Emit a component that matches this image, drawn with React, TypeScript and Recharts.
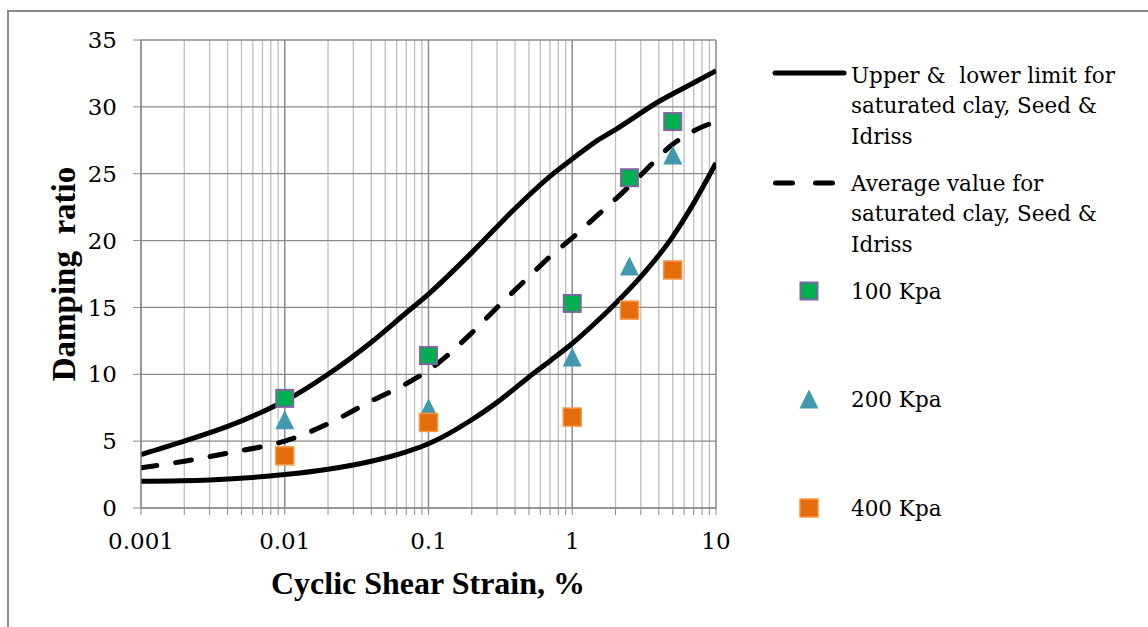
import {
  ComposedChart,
  Line,
  Scatter,
  XAxis,
  YAxis,
  CartesianGrid,
  ReferenceLine,
} from "recharts";

const GRID_MINOR = "#bdbdbd";
const GRID_MAJOR = "#8a8a8a";
const GREEN = "#00b050";
const PURPLE = "#8064a2";
const TEAL = "#4198af";
const ORANGE = "#e46c0a";
const ORANGE_EDGE = "#f79646";
const SERIF = "'DejaVu Serif', serif";
const TITLE_FONT = "'Liberation Serif', serif";

// axis ticks
const DECADES = [0.001, 0.01, 0.1, 1, 10];
const MINOR_STEPS = [2, 3, 4, 5, 6, 7, 8, 9];
const Y_TICKS = [0, 5, 10, 15, 20, 25, 30, 35];

// test results
const STRAIN = [0.01, 0.1, 1, 2.5, 5];
const KPA_100 = [8.2, 11.4, 15.3, 24.7, 28.9];
const KPA_200 = [6.6, 7.5, 11.3, 18.1, 26.4];
const KPA_400 = [3.9, 6.4, 6.8, 14.8, 17.8];

// Seed & Idriss bounds
const UPPER_X = [0.001, 0.002, 0.004, 0.007, 0.01, 0.02, 0.04, 0.07, 0.1, 0.2, 0.4, 0.7, 1, 1.5, 2, 4, 7, 10];
const UPPER_Y = [4.0, 5.0, 6.1, 7.2, 8.0, 10.0, 12.4, 14.6, 16.0, 19.1, 22.4, 24.8, 26.1, 27.5, 28.3, 30.4, 31.8, 32.7];
const LOWER_X = [0.001, 0.003, 0.01, 0.02, 0.04, 0.07, 0.1, 0.2, 0.3, 0.5, 0.7, 1, 1.5, 2, 3, 5, 7, 10];
const LOWER_Y = [2.0, 2.1, 2.5, 2.9, 3.5, 4.2, 4.8, 6.6, 7.9, 9.8, 11.0, 12.3, 14.0, 15.3, 17.3, 20.3, 22.8, 25.8];
const AVG_X = [0.001, 0.002, 0.004, 0.007, 0.01, 0.02, 0.04, 0.07, 0.1, 0.2, 0.3, 0.5, 0.7, 1, 1.5, 2, 3, 5, 7, 10];
const AVG_Y = [3.0, 3.5, 4.1, 4.6, 5.0, 6.3, 8.0, 9.3, 10.3, 13.1, 15.0, 17.3, 18.8, 20.2, 21.9, 23.1, 24.9, 27.2, 28.2, 28.9];

const X_TICKS = DECADES.flatMap((d, i) =>
  i === DECADES.length - 1 ? [d] : [d, ...MINOR_STEPS.map((m) => +(d * m).toPrecision(3))]
);

const pairs = (xs: number[], ys: number[]) => xs.map((x, i) => ({ x, y: ys[i] }));

const upper = pairs(UPPER_X, UPPER_Y);
const lower = pairs(LOWER_X, LOWER_Y);
const avg = pairs(AVG_X, AVG_Y);
const pts100 = pairs(STRAIN, KPA_100);
const pts200 = pairs(STRAIN, KPA_200);
const pts400 = pairs(STRAIN, KPA_400);

function GreenSquare({ cx, cy }: any) {
  return <rect x={cx - 8.5} y={cy - 8.5} width={17} height={17} fill={GREEN} stroke={PURPLE} strokeWidth={2} />;
}

function OrangeSquare({ cx, cy }: any) {
  return <rect x={cx - 9} y={cy - 9} width={18} height={18} fill={ORANGE} stroke={ORANGE_EDGE} strokeWidth={1.5} />;
}

function Triangle({ cx, cy }: any) {
  return <path d={`M${cx},${cy - 9.5} L${cx + 9.5},${cy + 9.5} L${cx - 9.5},${cy + 9.5} Z`} fill={TEAL} />;
}

function LegendPanel() {
  const txt = { fontFamily: SERIF, fontSize: 21.5, fill: "#000" };
  const lineText = (lines: string[], y0: number) =>
    lines.map((l, i) => (
      <text key={l} x={851} y={y0 + i * 30.5} dominantBaseline="central" style={{ whiteSpace: "pre" }} {...txt}>
        {l}
      </text>
    ));
  return (
    <svg width={1148} height={627} style={{ position: "absolute", left: 0, top: 0 }}>
      <line x1={775} y1={73} x2={844} y2={73} stroke="#000" strokeWidth={5} strokeLinecap="round" />
      {lineText(["Upper &  lower limit for", "saturated clay, Seed &", "Idriss"], 75)}
      <line x1={775.5} y1={183} x2={833} y2={183} stroke="#000" strokeWidth={5} strokeLinecap="round" strokeDasharray="17 23" />
      {lineText(["Average value for", "saturated clay, Seed &", "Idriss"], 183)}
      <GreenSquare cx={809} cy={291} />
      {lineText(["100 Kpa"], 291)}
      <Triangle cx={809} cy={399} />
      {lineText(["200 Kpa"], 399)}
      <OrangeSquare cx={809} cy={508} />
      {lineText(["400 Kpa"], 508)}
    </svg>
  );
}

export default function App() {
  return (
    <div style={{ position: "absolute", left: 0, top: 0, width: 1148, height: 627, background: "#fff", overflow: "hidden" }}>
      <div
        style={{
          position: "absolute",
          left: 7,
          top: 10,
          width: 1160,
          height: 640,
          borderTop: "2px solid #8c8c8c",
          borderLeft: "2px solid #8c8c8c",
        }}
      />
      <div style={{ position: "absolute", left: 0, top: 0 }}>
        <ComposedChart width={740} height={600} margin={{ top: 40, right: 24, bottom: 42, left: 81 }}>
          <CartesianGrid horizontal={false} stroke={GRID_MINOR} strokeWidth={1.3} />
          {Y_TICKS.map((v) => (
            <ReferenceLine key={`h${v}`} y={v} stroke={GRID_MAJOR} strokeWidth={1.3} />
          ))}
          {DECADES.map((v) => (
            <ReferenceLine key={`v${v}`} x={v} stroke={GRID_MAJOR} strokeWidth={1.3} />
          ))}
          <XAxis
            dataKey="x"
            type="number"
            scale="log"
            domain={[0.001, 10]}
            allowDataOverflow
            ticks={X_TICKS}
            interval={0}
            tickFormatter={(v: number) => (DECADES.includes(v) ? String(v) : "")}
            tick={{ fill: "#000", fontSize: 23, fontFamily: SERIF }}
            tickSize={7}
            tickMargin={18}
            height={50}
            stroke={GRID_MAJOR}
          />
          <YAxis
            type="number"
            domain={[0, 35]}
            ticks={Y_TICKS}
            interval={0}
            tick={{ fill: "#000", fontSize: 23, fontFamily: SERIF }}
            tickSize={8}
            tickMargin={16}
            width={60}
            stroke={GRID_MAJOR}
          />
          <Line data={upper} dataKey="y" type="monotone" stroke="#000" strokeWidth={5} dot={false} isAnimationActive={false} />
          <Line data={lower} dataKey="y" type="monotone" stroke="#000" strokeWidth={5} dot={false} isAnimationActive={false} />
          <Line
            data={avg}
            dataKey="y"
            type="monotone"
            stroke="#000"
            strokeWidth={5}
            strokeDasharray="16 19"
            strokeLinecap="round"
            dot={false}
            isAnimationActive={false}
          />
          <Scatter data={pts200} dataKey="y" shape={<Triangle />} isAnimationActive={false} />
          <Scatter data={pts100} dataKey="y" shape={<GreenSquare />} isAnimationActive={false} />
          <Scatter data={pts400} dataKey="y" shape={<OrangeSquare />} isAnimationActive={false} />
        </ComposedChart>
      </div>
      <div
        style={{
          position: "absolute",
          left: 428,
          top: 583,
          transform: "translate(-50%, -50%)",
          fontFamily: TITLE_FONT,
          fontWeight: "bold",
          fontSize: 32,
          whiteSpace: "nowrap",
        }}
      >
        Cyclic Shear Strain, %
      </div>
      <div
        style={{
          position: "absolute",
          left: 64,
          top: 274,
          transform: "translate(-50%, -50%) rotate(-90deg)",
          fontFamily: TITLE_FONT,
          fontWeight: "bold",
          fontSize: 33,
          whiteSpace: "pre",
        }}
      >
        Damping  ratio
      </div>
      <LegendPanel />
    </div>
  );
}
